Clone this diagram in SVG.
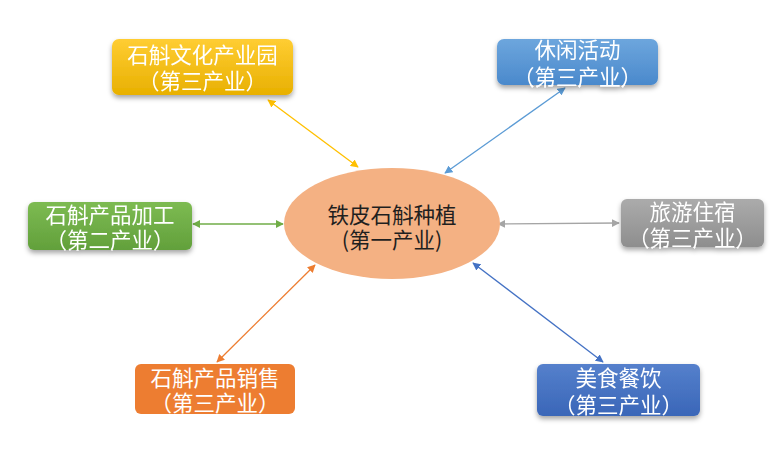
<svg xmlns="http://www.w3.org/2000/svg" width="780" height="456" viewBox="0 0 780 456">
<style>
.box-text{font-family:"Noto Sans CJK SC","Noto Sans",sans-serif;font-size:21.5px;fill:#ffffff;text-anchor:middle}
.center-text{font-family:"Noto Sans CJK SC","Noto Sans",sans-serif;font-size:21.5px;fill:#1f1f1f;text-anchor:middle}
.conn{fill:none;stroke-width:1.3}
</style>
<defs>
<filter id="shadow" x="-10%" y="-20%" width="120%" height="150%">
<feDropShadow dx="0" dy="3" stdDeviation="2.5" flood-color="#000" flood-opacity="0.35"/>
</filter>
<linearGradient id="gGold" x1="0" y1="0" x2="0" y2="1"><stop offset="0" stop-color="#FFCD33"/><stop offset="1" stop-color="#E8B000"/></linearGradient>
<linearGradient id="gBlueL" x1="0" y1="0" x2="0" y2="1"><stop offset="0" stop-color="#6DA6DD"/><stop offset="1" stop-color="#4A89CC"/></linearGradient>
<linearGradient id="gGreen" x1="0" y1="0" x2="0" y2="1"><stop offset="0" stop-color="#7DBB52"/><stop offset="1" stop-color="#62A03B"/></linearGradient>
<linearGradient id="gGrey" x1="0" y1="0" x2="0" y2="1"><stop offset="0" stop-color="#ABABAB"/><stop offset="1" stop-color="#8E8E8E"/></linearGradient>
<linearGradient id="gBlueD" x1="0" y1="0" x2="0" y2="1"><stop offset="0" stop-color="#5580CC"/><stop offset="1" stop-color="#3A66B8"/></linearGradient>
<marker id="mGold" viewBox="0 0 10 10" refX="9" refY="5" markerWidth="8" markerHeight="8" markerUnits="userSpaceOnUse" orient="auto-start-reverse"><path d="M0,0 L10,5 L0,10 z" fill="#FFC000"/></marker>
<marker id="mBlueL" viewBox="0 0 10 10" refX="9" refY="5" markerWidth="8" markerHeight="8" markerUnits="userSpaceOnUse" orient="auto-start-reverse"><path d="M0,0 L10,5 L0,10 z" fill="#5B9BD5"/></marker>
<marker id="mGreen" viewBox="0 0 10 10" refX="9" refY="5" markerWidth="8" markerHeight="8" markerUnits="userSpaceOnUse" orient="auto-start-reverse"><path d="M0,0 L10,5 L0,10 z" fill="#70AD47"/></marker>
<marker id="mGrey" viewBox="0 0 10 10" refX="9" refY="5" markerWidth="8" markerHeight="8" markerUnits="userSpaceOnUse" orient="auto-start-reverse"><path d="M0,0 L10,5 L0,10 z" fill="#A5A5A5"/></marker>
<marker id="mOrange" viewBox="0 0 10 10" refX="9" refY="5" markerWidth="8" markerHeight="8" markerUnits="userSpaceOnUse" orient="auto-start-reverse"><path d="M0,0 L10,5 L0,10 z" fill="#ED7D31"/></marker>
<marker id="mBlueD" viewBox="0 0 10 10" refX="9" refY="5" markerWidth="8" markerHeight="8" markerUnits="userSpaceOnUse" orient="auto-start-reverse"><path d="M0,0 L10,5 L0,10 z" fill="#4472C4"/></marker>
</defs>
<rect width="780" height="456" fill="#ffffff"/>
<g id="connectors">
<line class="conn" x1="268" y1="100" x2="358" y2="167" stroke="#FFC000" marker-start="url(#mGold)" marker-end="url(#mGold)"/>
<line class="conn" x1="565" y1="88" x2="445" y2="173" stroke="#5B9BD5" marker-start="url(#mBlueL)" marker-end="url(#mBlueL)"/>
<line class="conn" x1="193" y1="224" x2="283" y2="224" stroke="#70AD47" marker-start="url(#mGreen)" marker-end="url(#mGreen)"/>
<line class="conn" x1="498" y1="224" x2="619" y2="223" stroke="#A5A5A5" marker-start="url(#mGrey)" marker-end="url(#mGrey)"/>
<line class="conn" x1="217" y1="362" x2="315" y2="265" stroke="#ED7D31" marker-start="url(#mOrange)" marker-end="url(#mOrange)"/>
<line class="conn" x1="473" y1="263" x2="603" y2="362" stroke="#4472C4" marker-start="url(#mBlueD)" marker-end="url(#mBlueD)"/>
</g>
<g id="center">
<ellipse cx="392" cy="223.5" rx="108" ry="55.5" fill="#F4B183"/>
<text class="center-text" x="392" y="223">铁皮石斛种植</text>
<text class="center-text" x="392" y="248">(第一产业)</text>
</g>
<g id="culture-park" filter="url(#shadow)">
<rect x="112" y="39" width="181" height="56" rx="7" fill="url(#gGold)"/>
<text class="box-text" x="202.5" y="63">石斛文化产业园</text>
<text class="box-text" x="202.5" y="89">（第三产业）</text>
</g>
<g id="leisure" filter="url(#shadow)">
<rect x="497" y="39" width="161" height="46" rx="7" fill="url(#gBlueL)"/>
<text class="box-text" x="577.5" y="58">休闲活动</text>
<text class="box-text" x="577.5" y="85">（第三产业）</text>
</g>
<g id="processing" filter="url(#shadow)">
<rect x="28" y="202" width="164" height="48" rx="6" fill="url(#gGreen)"/>
<text class="box-text" x="110" y="223">石斛产品加工</text>
<text class="box-text" x="110" y="248">（第二产业）</text>
</g>
<g id="tourism" filter="url(#shadow)">
<rect x="621" y="199" width="143" height="48" rx="6" fill="url(#gGrey)"/>
<text class="box-text" x="692.5" y="220">旅游住宿</text>
<text class="box-text" x="692.5" y="246">（第三产业）</text>
</g>
<g id="sales">
<rect x="135" y="364" width="160" height="50" rx="6" fill="#ED7D31"/>
<text class="box-text" x="215" y="386">石斛产品销售</text>
<text class="box-text" x="215" y="411">（第三产业）</text>
</g>
<g id="food" filter="url(#shadow)">
<rect x="537" y="364" width="163" height="52" rx="6" fill="url(#gBlueD)"/>
<text class="box-text" x="618.5" y="386">美食餐饮</text>
<text class="box-text" x="618.5" y="413">（第三产业）</text>
</g>
</svg>
